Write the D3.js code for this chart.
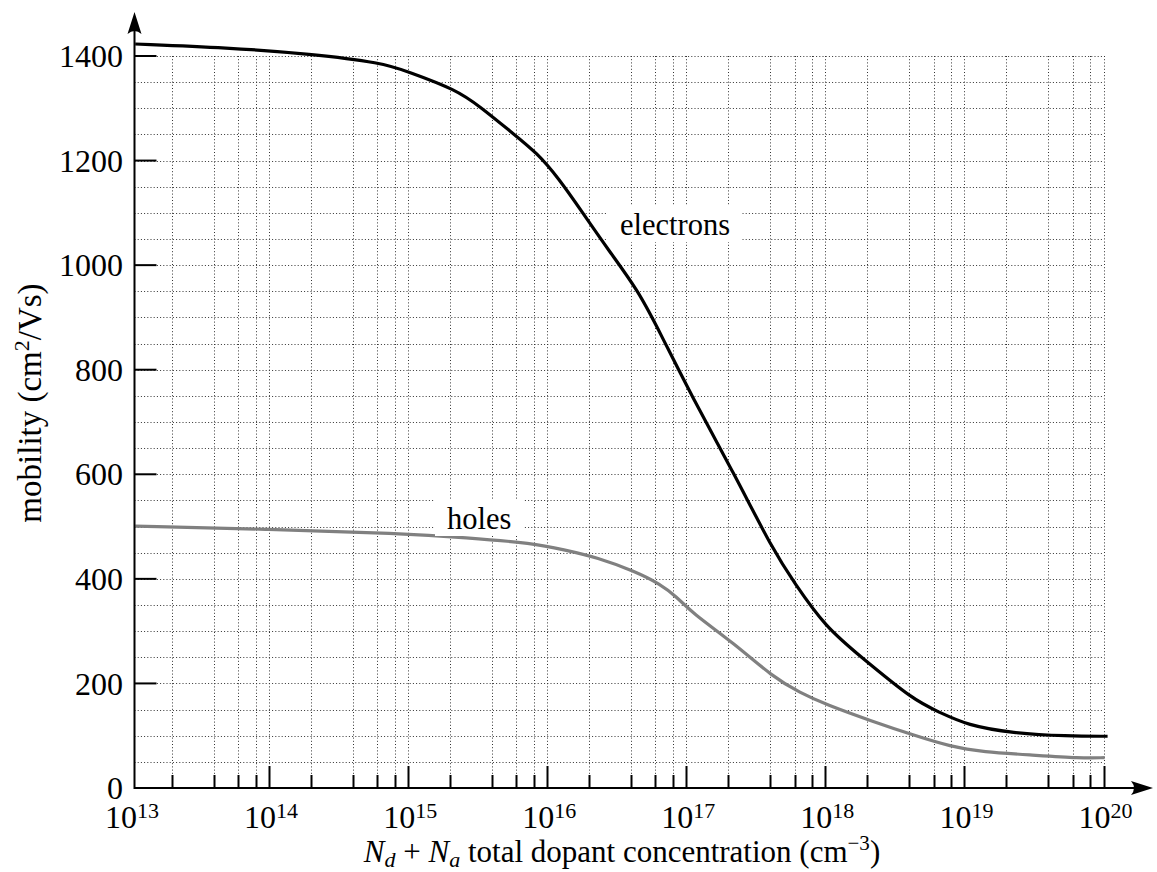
<!DOCTYPE html>
<html>
<head>
<meta charset="utf-8">
<script src="https://cdn.jsdelivr.net/npm/d3@7"></script>
<style>
  body { margin: 0; background: #fff; }
  svg { display: block; font-family: "Liberation Serif", "Times New Roman", serif; }
</style>
</head>
<body>
<svg id="chart" width="1157" height="872"></svg>
<script>
// dopant concentration (cm^-3) and mobility (cm^2/Vs)
var electronN  = [1.09e13, 5e13, 2e14, 6.5e14, 1e15, 2.2e15, 3.3e15, 5.6e15, 8.5e15, 1.2e16,
                  1.8e16, 2.75e16, 4.5e16, 6.5e16, 1.1e17, 2.2e17, 4.2e17, 6e17, 1e18, 1.8e18,
                  4.3e18, 6.6e18, 1.05e19, 2.2e19, 5.5e19, 1.07e20];
var electronMu = [1423, 1416, 1404, 1387, 1370, 1336, 1303, 1253, 1214, 1167,
                  1100, 1029, 952, 870, 748, 602, 455, 392, 308, 251,
                  168, 145, 120, 105, 99, 99];

var holeN  = [1.09e13, 1e14, 8.7e14, 2.6e15, 8e15, 1.3e16, 2.3e16, 4.3e16, 6.5e16, 8.5e16,
              1.1e17, 2.2e17, 4.2e17, 6.6e17, 1e18, 2.2e18, 4.3e18, 8e18, 1.35e19, 3.1e19,
              6.8e19, 1.02e20];
var holeMu = [501, 495, 487, 479, 468, 456, 441, 414, 390, 366,
              335, 277, 212, 182, 160, 127, 101, 79, 69, 63,
              57, 58];

var decadeExps = [13, 14, 15, 16, 17, 18, 19, 20];
var minorMults = [2, 4, 6, 8];
var yMajor = [0, 200, 400, 600, 800, 1000, 1200, 1400];
var yGridStep = 50;

var svg = d3.select("#chart");

var x = d3.scaleLog().domain([1e13, 1e20]).range([130, 1103.5]);
var y = d3.scaleLinear().domain([0, 1400]).range([788, 56]);

var axisX = 134.5;   // where the vertical axis sits
var axisY = y(0);

// every tick position on the log axis
var majorVals = decadeExps.map(function (e) { return Math.pow(10, e); });
var minorVals = [];
for (var i = 0; i < decadeExps.length - 1; i++) {
  for (var j = 0; j < minorMults.length; j++) {
    minorVals.push(minorMults[j] * Math.pow(10, decadeExps[i]));
  }
}
var allX = majorVals.concat(minorVals).filter(function (v) { return x(v) > axisX + 1; });

var yGrid = d3.range(yGridStep, 1400 + 1, yGridStep);

// grid
var grid = svg.append("g")
  .attr("stroke", "#333")
  .attr("stroke-width", 1)
  .attr("stroke-dasharray", "1,2.2");

grid.selectAll("line.v")
  .data(allX)
  .enter()
  .append("line")
  .attr("class", "v")
  .attr("x1", function (d) { return Math.round(x(d)) + 0.5; })
  .attr("x2", function (d) { return Math.round(x(d)) + 0.5; })
  .attr("y1", y(1400))
  .attr("y2", axisY);

grid.selectAll("line.h")
  .data(yGrid)
  .enter()
  .append("line")
  .attr("class", "h")
  .attr("x1", axisX)
  .attr("x2", x(1e20))
  .attr("y1", function (d) { return Math.round(y(d)) + 0.5; })
  .attr("y2", function (d) { return Math.round(y(d)) + 0.5; });

// curves
var line = d3.line()
  .x(function (d) { return x(d[0]); })
  .y(function (d) { return y(d[1]); })
  .curve(d3.curveBasis);

svg.append("path")
  .datum(d3.zip(holeN, holeMu))
  .attr("fill", "none")
  .attr("stroke", "#808080")
  .attr("stroke-width", 3.2)
  .attr("d", line);

svg.append("path")
  .datum(d3.zip(electronN, electronMu))
  .attr("fill", "none")
  .attr("stroke", "#000")
  .attr("stroke-width", 3.2)
  .attr("d", line);

// curve labels with white boxes behind them
function addLabel(txt, px, py) {
  var g = svg.append("g");
  var t = g.append("text")
    .attr("x", px)
    .attr("y", py)
    .attr("font-size", 30.5)
    .text(txt);
  var bb = t.node().getBBox();
  g.insert("rect", "text")
    .attr("x", bb.x - 12)
    .attr("y", bb.y - 2)
    .attr("width", bb.width + 24)
    .attr("height", bb.height + 2)
    .attr("fill", "#fff");
}
addLabel("electrons", 620, 235);
addLabel("holes", 447, 529);

// ticks
var ticks = svg.append("g").attr("stroke", "#000").attr("stroke-width", 2);

ticks.selectAll("line.ymaj")
  .data(yMajor.filter(function (d) { return d > 0; }))
  .enter()
  .append("line")
  .attr("x1", axisX)
  .attr("x2", axisX + 22)
  .attr("y1", function (d) { return y(d); })
  .attr("y2", function (d) { return y(d); });

ticks.selectAll("line.xmin")
  .data(minorVals.filter(function (v) { return x(v) > axisX + 1; }))
  .enter()
  .append("line")
  .attr("x1", function (d) { return Math.round(x(d)) + 0.5; })
  .attr("x2", function (d) { return Math.round(x(d)) + 0.5; })
  .attr("y1", axisY)
  .attr("y2", axisY - 13);

ticks.selectAll("line.xmaj")
  .data(majorVals.slice(1))
  .enter()
  .append("line")
  .attr("x1", function (d) { return Math.round(x(d)) + 0.5; })
  .attr("x2", function (d) { return Math.round(x(d)) + 0.5; })
  .attr("y1", axisY)
  .attr("y2", axisY - 22);

// axes with arrow heads
svg.append("line")
  .attr("x1", axisX).attr("x2", 1140)
  .attr("y1", axisY).attr("y2", axisY)
  .attr("stroke", "#000").attr("stroke-width", 2);
svg.append("line")
  .attr("x1", axisX).attr("x2", axisX)
  .attr("y1", axisY + 1).attr("y2", 24)
  .attr("stroke", "#000").attr("stroke-width", 2);

svg.append("path")
  .attr("d", "M1153," + axisY + " L1131," + (axisY - 7) + " Q1137," + axisY + " 1131," + (axisY + 7) + " Z")
  .attr("fill", "#000");
svg.append("path")
  .attr("d", "M" + axisX + ",12 L" + (axisX - 7) + ",34 Q" + axisX + ",28 " + (axisX + 7) + ",34 Z")
  .attr("fill", "#000");

// tick labels
svg.selectAll("text.ylab")
  .data(yMajor)
  .enter()
  .append("text")
  .attr("class", "ylab")
  .attr("x", 123)
  .attr("y", function (d) { return y(d); })
  .attr("dy", "0.35em")
  .attr("text-anchor", "end")
  .attr("font-size", 32)
  .text(function (d) { return d; });

var xlab = svg.selectAll("text.xlab")
  .data(decadeExps)
  .enter()
  .append("text")
  .attr("class", "xlab")
  .attr("x", function (d) { return x(Math.pow(10, d)) + 2; })
  .attr("y", 828)
  .attr("text-anchor", "middle")
  .attr("font-size", 32);
xlab.append("tspan").text("10");
xlab.append("tspan")
  .attr("font-size", 22)
  .attr("dy", -10)
  .text(function (d) { return d; });

// axis titles
var xt = svg.append("text")
  .attr("x", 622)
  .attr("y", 862)
  .attr("text-anchor", "middle")
  .attr("font-size", 31);
xt.append("tspan").attr("font-style", "italic").text("N");
xt.append("tspan").attr("font-style", "italic").attr("font-size", 22).attr("dy", 5).text("d");
xt.append("tspan").attr("dy", -5).text(" + ");
xt.append("tspan").attr("font-style", "italic").text("N");
xt.append("tspan").attr("font-style", "italic").attr("font-size", 22).attr("dy", 5).text("a");
xt.append("tspan").attr("dy", -5).text(" total dopant concentration (cm");
xt.append("tspan").attr("font-size", 21).attr("dy", -12).text("\u22123");
xt.append("tspan").attr("dy", 12).text(")");

var yt = svg.append("text")
  .attr("transform", "translate(41,403) rotate(-90)")
  .attr("text-anchor", "middle")
  .attr("font-size", 33);
yt.append("tspan").text("mobility (cm");
yt.append("tspan").attr("font-size", 22).attr("dy", -12).text("2");
yt.append("tspan").attr("dy", 12).text("/Vs)");
</script>
</body>
</html>
